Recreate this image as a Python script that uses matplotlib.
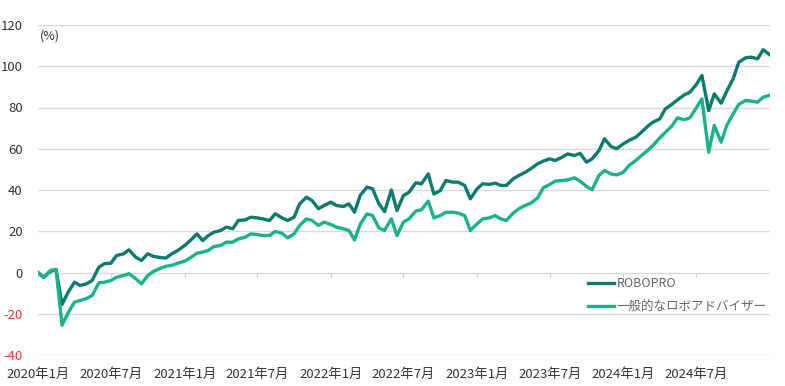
import numpy as np
import pandas as pd
import matplotlib
matplotlib.use('Agg')
import matplotlib.pyplot as plt

plt.rcParams['font.family'] = ['Noto Sans CJK JP', 'DejaVu Sans']

# semi-monthly points (1st and 15th), Jan 2020 - Jan 2025
dates = pd.date_range('2020-01-01', '2025-01-01', freq='SMS')

robopro = [
    0, -2.3, 0.5, 1.5, -15.5, -10, -4.7, -6.3, -5.5, -3.9,
    2.6, 4.3, 4.5, 8.2, 9.0, 11.0, 7.4, 5.8, 9.1, 7.8,
    7.3, 7.0, 9.2, 10.7, 13.1, 15.5, 18.7, 15.5, 17.9, 19.5,
    20.4, 22, 21.2, 25.2, 25.5, 26.8, 26.5, 26, 25.2, 28.5,
    26.5, 25.2, 26.8, 33.3, 36.5, 34.9, 30.9, 32.5, 34.1, 32.5,
    32, 33.3, 29.2, 37.3, 41.4, 40.6, 33.3, 29.5, 40, 30,
    37.3, 38.9, 43.5, 43, 47.8, 38.1, 39.7, 44.6, 43.8, 43.8,
    42.2, 35.7, 40.6, 43, 42.7, 43.3, 42.2, 42.2, 45.4, 47,
    48.6, 50.3, 52.7, 54, 55.1, 54.3, 55.9, 57.5, 56.7, 57.8,
    53.5, 55.1, 59.1, 64.8, 61.1, 60, 62.4, 64, 65.6, 68,
    70.8, 72.9, 74.5, 79.4, 81.5, 83.7, 86.1, 87.4, 91.1, 95.5,
    78.5, 86.6, 82.1, 87.9, 93.9, 101.9, 104.1, 104.4, 103.6, 108,
    105.5,
]

general = [
    0, -2.5, 1.0, 1.5, -25.5, -20, -14.4, -13.6, -12.6, -11.2,
    -5, -4.7, -3.9, -2.3, -1.5, -0.6, -3, -5.5, -1.5, 0.5,
    2, 3, 3.5, 4.5, 5.5, 7.1, 9.4, 9.9, 10.7, 12.6,
    13.1, 14.7, 14.7, 16.3, 17.1, 18.7, 18.4, 17.9, 17.9, 19.9,
    19, 16.8, 18.7, 22.8, 26, 25.2, 22.8, 24.4, 23.3, 22,
    21.2, 20.4, 15.8, 23.3, 28.4, 27.6, 21.6, 20.4, 26, 17.9,
    24.4, 26, 29.8, 30.4, 34.6, 26.5, 27.6, 29.2, 29.2, 28.8,
    27.6, 20.4, 23.6, 26, 26.5, 27.6, 26, 25.2, 28.8, 30.9,
    32.5, 33.6, 36.2, 41, 42.7, 44.3, 44.6, 44.9, 45.9, 44.3,
    41.7, 40.1, 47, 49.4, 47.8, 47.3, 48.6, 51.9, 54.3, 56.7,
    59.1, 61.6, 65.3, 68, 71, 75, 74.1, 75, 79.8, 84.2,
    58.3, 71.3, 63.2, 71.3, 76.9, 81.5, 83.4, 83.1, 82.6, 85,
    86,
]

labels = ['ROBOPRO', '一般的なロボアドバイザー']
colors = ['#0b7b6e', '#19b28b']

tick_dates = pd.date_range('2020-01-01', '2024-07-01', freq='6MS')
tick_labels = [f'{d.year}年{d.month}月' for d in tick_dates]
y_ticks = np.arange(-40, 121, 20)

fig = plt.figure(figsize=(7.85, 3.86), dpi=100)
ax = fig.add_axes([38/785, 1 - 355/386, (770 - 38)/785, 330/386])

ax.plot(dates, robopro, color=colors[0], lw=2.4, label=labels[0], solid_joinstyle='round')
ax.plot(dates, general, color=colors[1], lw=2.4, label=labels[1], solid_joinstyle='round')

ax.set_xlim(pd.Timestamp('2020-01-01'), pd.Timestamp('2025-01-01'))
ax.set_ylim(-40, 120)
ax.set_yticks(y_ticks)
ax.set_yticklabels([str(v) for v in y_ticks])
ax.set_xticks(tick_dates)
ax.set_xticklabels(tick_labels)
ax.tick_params(axis='both', length=0, labelsize=9.5, colors='#333333')
ax.tick_params(axis='y', pad=11)
ax.tick_params(axis='x', pad=9)
for lbl, v in zip(ax.get_yticklabels(), y_ticks):
    lbl.set_color('#e53935' if v < 0 else '#333333')

ax.grid(axis='y', color='#d9d9d9', lw=1)
ax.set_axisbelow(True)
for s in ax.spines.values():
    s.set_visible(False)

# small tick marks sitting on the zero line
sec = ax.secondary_xaxis(0, transform=ax.transData)
sec.set_xticks(tick_dates)
sec.tick_params(length=3, color='#cccccc', labelbottom=False)
sec.spines['bottom'].set_visible(False)

ax.text(0.003, 0.985, '(%)', transform=ax.transAxes, fontsize=9,
        color='#333333', va='top', ha='left')

leg = ax.legend(loc='upper left', bbox_to_anchor=(588/785, 1 - 277/386),
                bbox_transform=fig.transFigure, frameon=False, fontsize=9,
                handlelength=2.1, handletextpad=0.2, labelspacing=0.85,
                borderpad=0, borderaxespad=0, labelcolor='#666666')

fig.savefig('out.png', dpi=100)
